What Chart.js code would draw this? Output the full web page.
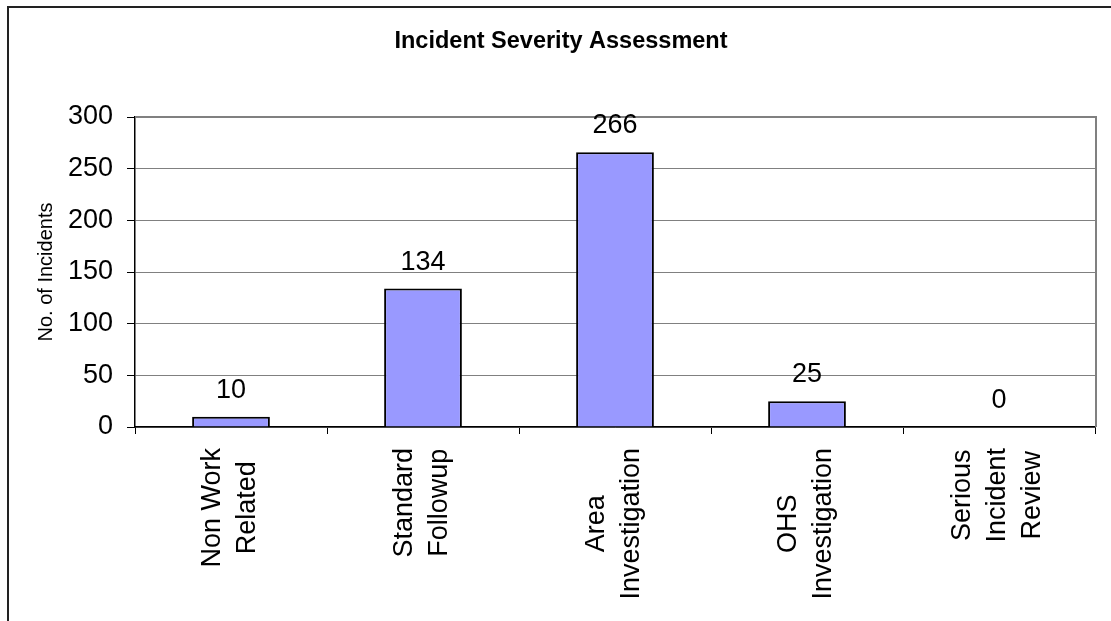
<!DOCTYPE html>
<html>
<head>
<meta charset="utf-8">
<title>Incident Severity Assessment</title>
<script src="https://cdn.jsdelivr.net/npm/chart.js@4"></script>
<style>
  body { margin: 0; background: #fff; }
  canvas { display: block; }
</style>
</head>
<body>
<canvas id="severityChart" width="1111" height="621"></canvas>
<script>
'use strict';
//data
var categories = [
  ['Non Work', 'Related'],
  ['Standard', 'Followup'],
  ['Area', 'Investigation'],
  ['OHS', 'Investigation'],
  ['Serious', 'Incident', 'Review']
];
var incidentCounts = [10, 134, 266, 25, 0];
var yTicks = [0, 50, 100, 150, 200, 250, 300];
var chartTitle = 'Incident Severity Assessment';
var yTitle = 'No. of Incidents';

var fontFamily = '"Liberation Sans", Arial, sans-serif';

//frame, title, category labels and value labels
var excelLook = {
  id: 'excelLook',
  beforeDraw: function(chart){
    var ctx = chart.ctx;
    ctx.save();
    ctx.strokeStyle = '#222';
    ctx.lineWidth = 2;
    ctx.beginPath();
    ctx.moveTo(8, chart.height);
    ctx.lineTo(8, 7);
    ctx.lineTo(chart.width, 7);
    ctx.stroke();

    ctx.fillStyle = '#000';
    ctx.font = 'bold 23.5px ' + fontFamily;
    ctx.textAlign = 'center';
    ctx.textBaseline = 'alphabetic';
    ctx.fillText(chartTitle, 561, 48);
    ctx.restore();
  },
  afterDatasetsDraw: function(chart){
    var ctx = chart.ctx;
    var area = chart.chartArea;
    var xScale = chart.scales.x;
    ctx.save();
    //plot area border (top and right)
    ctx.strokeStyle = '#808080';
    ctx.lineWidth = 2;
    ctx.beginPath();
    ctx.moveTo(area.left, area.top);
    ctx.lineTo(area.right + 1, area.top);
    ctx.lineTo(area.right + 1, area.bottom);
    ctx.stroke();

    //value labels above the bars
    ctx.fillStyle = '#000';
    ctx.font = '27px ' + fontFamily;
    ctx.textAlign = 'center';
    ctx.textBaseline = 'alphabetic';
    var bars = chart.getDatasetMeta(0).data;
    for (var i = 0; i < bars.length; i++){
      ctx.fillText(String(incidentCounts[i]), bars[i].x, bars[i].y - 19);
    }

    //rotated category labels, lines centred on each other
    ctx.textBaseline = 'middle';
    for (var c = 0; c < categories.length; c++){
      var lines = categories[c];
      var px = xScale.getPixelForValue(c);
      var maxW = 0;
      for (var j = 0; j < lines.length; j++){
        maxW = Math.max(maxW, ctx.measureText(lines[j]).width);
      }
      var cy = 448 + maxW / 2;
      for (var k = 0; k < lines.length; k++){
        var cx = px - 1 + (k - (lines.length - 1) / 2) * 35;
        ctx.save();
        ctx.translate(cx, cy);
        ctx.rotate(-Math.PI / 2);
        ctx.fillText(lines[k], 0, 0);
        ctx.restore();
      }
    }
    ctx.restore();
  }
};

var ctx = document.getElementById('severityChart');
var severityChart = new Chart(ctx, {
  type: 'bar',
  data: {
    labels: categories.map(function(l){ return l.join(' '); }),
    datasets: [{
      label: yTitle,
      data: incidentCounts,
      backgroundColor: '#9999FF',
      borderColor: '#000',
      borderWidth: 2,
      categoryPercentage: 1,
      barPercentage: 0.405
    }]
  },
  options: {
    responsive: false,
    animation: false,
    devicePixelRatio: 1,
    layout: { padding: { top: 117, right: 16, bottom: 0, left: 0 } },
    plugins: {
      legend: { display: false },
      title: { display: false },
      tooltip: { enabled: false }
    },
    scales: {
      x: {
        grid: {
          offset: true,
          drawOnChartArea: false,
          color: '#000',
          tickLength: 7
        },
        border: { color: '#000', width: 1.5 },
        ticks: { display: false },
        afterFit: function(scale){ scale.height = 194; }
      },
      y: {
        min: yTicks[0],
        max: yTicks[yTicks.length - 1],
        afterBuildTicks: function(scale){
          scale.ticks = yTicks.map(function(v){ return { value: v }; });
        },
        grid: {
          color: '#808080',
          tickColor: '#000',
          tickLength: 8
        },
        border: { color: '#000', width: 1.5 },
        ticks: {
          color: '#000',
          padding: 14,
          font: { family: fontFamily, size: 27 }
        },
        title: {
          display: true,
          text: yTitle,
          color: '#000',
          padding: { top: 34, bottom: 0 },
          font: { family: fontFamily, size: 20 }
        },
        afterFit: function(scale){ scale.width = 135; }
      }
    }
  },
  plugins: [excelLook]
});
</script>
</body>
</html>
